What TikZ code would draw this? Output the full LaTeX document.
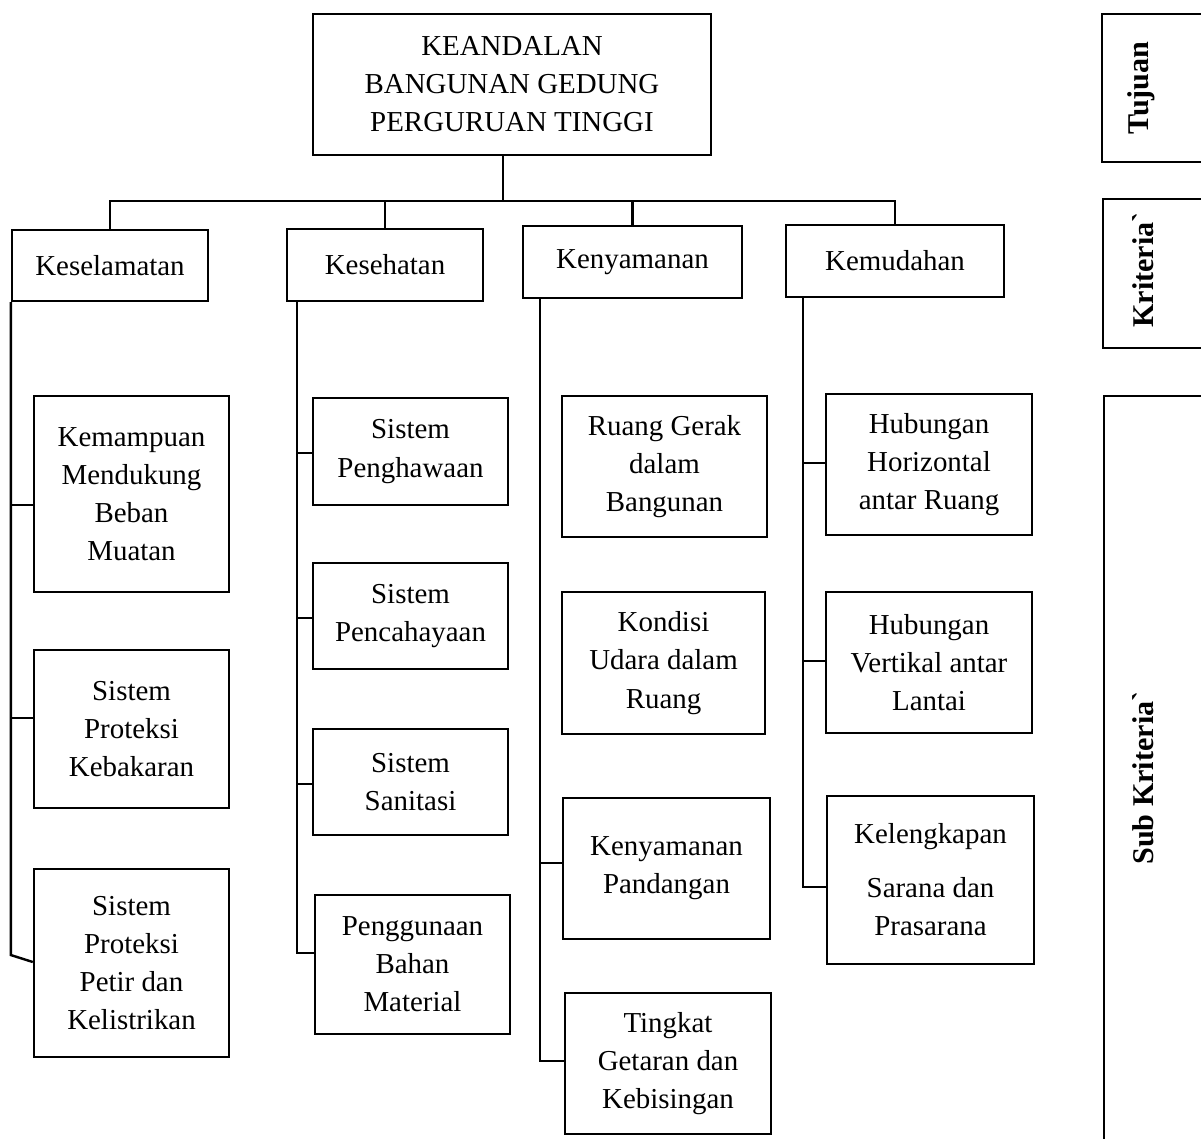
\documentclass[tikz,border=0pt]{standalone}
\usepackage{fontspec}
\setmainfont{Liberation Serif}
\begin{document}
\begin{tikzpicture}[x=0.415pt,y=-0.415pt,line width=1pt,
    kotak/.style={draw,align=center,inner sep=0pt,font=\fontsize{12}{15.8}\selectfont},
    wh/.style 2 args={minimum width=#1*0.415pt,minimum height=#2*0.415pt},
    sisi/.style={font=\bfseries\fontsize{12.5}{15}\selectfont,rotate=90}]
    \useasboundingbox (0,0) rectangle (1201,1138);
    \node[kotak,wh={398}{141}] (top) at (512,84.5) {KEANDALAN\\BANGUNAN GEDUNG\\PERGURUAN TINGGI};
    % kriteria
    \node[kotak,wh={196}{71}] (kesel) at (110,265.5) {Keselamatan};
    \node[kotak,wh={196}{72}] (keseh) at (385,265) {Kesehatan};
    \node[kotak,wh={219}{72}] (kenya) at (632.5,262) {Kenyamanan};
    \node[kotak,wh={218}{72}] (kemud) at (895,261) {Kemudahan};
    \coordinate (hub) at (503,201);
    \draw (top.south -| hub) -- (hub);
    \draw (kesel.north) |- (hub) -| (kemud.north);
    \draw (keseh.north) -- (keseh.north |- hub);
    \draw (kenya.north) -- (kenya.north |- hub);
    % sub kriteria
    \node[kotak,wh={195}{196}] (s11) at (131.5,494) {Kemampuan\\Mendukung\\Beban\\Muatan};
    \node[kotak,wh={195}{158}] (s12) at (131.5,729) {Sistem\\Proteksi\\Kebakaran};
    \node[kotak,wh={195}{188}] (s13) at (131.5,963) {Sistem\\Proteksi\\Petir dan\\Kelistrikan};
    \node[kotak,wh={195}{107}] (s21) at (410.5,451.5) {Sistem\\Penghawaan};
    \node[kotak,wh={195}{106}] (s22) at (410.5,616) {Sistem\\Pencahayaan};
    \node[kotak,wh={195}{106}] (s23) at (410.5,782) {Sistem\\Sanitasi};
    \node[kotak,wh={195}{139}] (s24) at (412.5,964.5) {Penggunaan\\Bahan\\Material};
    \node[kotak,wh={205}{141}] (s31) at (664.5,466.5) {Ruang Gerak\\dalam\\Bangunan};
    \node[kotak,wh={203}{142}] (s32) at (663.5,663) {Kondisi\\Udara dalam\\Ruang};
    \node[kotak,wh={207}{141}] (s33) at (666.5,868.5) {Kenyamanan\\Pandangan};
    \node[kotak,wh={206}{141}] (s34) at (668,1063.5) {Tingkat\\Getaran dan\\Kebisingan};
    \node[kotak,wh={206}{141}] (s41) at (929,464.5) {Hubungan\\Horizontal\\antar Ruang};
    \node[kotak,wh={206}{141}] (s42) at (929,662.5) {Hubungan\\Vertikal antar\\Lantai};
    \node[kotak,wh={207}{168}] (s43) at (930.5,880) {Kelengkapan\\[6.6pt]Sarana dan\\Prasarana};
    \foreach \n/\y in {s11/505,s12/718}
        \draw (kesel.south west) |- (\n.west |- 0,\y);
    \draw (kesel.south west) -- (kesel.south west |- 0,955) -- (s13.west |- 0,962);
    \coordinate (r2) at (297,0 |- keseh.south);
    \foreach \n/\y in {s21/453,s22/618,s23/784,s24/953}
        \draw (r2) |- (\n.west |- 0,\y);
    \coordinate (r3) at (540,0 |- kenya.south);
    \foreach \n/\y in {s33/863,s34/1061}
        \draw (r3) |- (\n.west |- 0,\y);
    \coordinate (r4) at (803,0 |- kemud.south);
    \foreach \n/\y in {s41/463,s42/661,s43/887}
        \draw (r4) |- (\n.west |- 0,\y);
    % tingkat
    \draw (1201,14) -| (1102,162) -- (1201,162);
    \draw (1201,199) -| (1103,348) -- (1201,348);
    \draw (1201,396) -| (1104,1140);
    \node[sisi] (tujuan) at (1141,88) {Tujuan};
    \node[sisi] (krit) at (1143,270) {Kriteria\textasciigrave};
    \node[sisi] (subkrit) at (1143,778) {Sub Kriteria\textasciigrave};
\end{tikzpicture}
\end{document}
